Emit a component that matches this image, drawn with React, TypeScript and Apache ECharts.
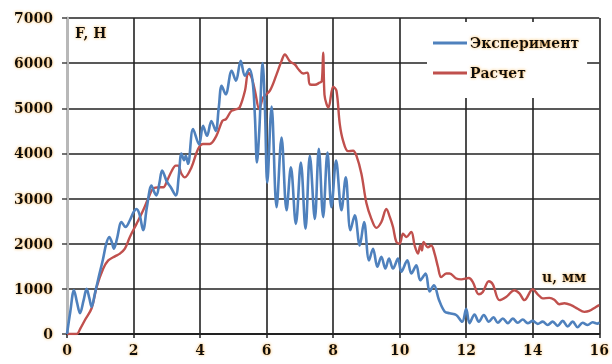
import React, { useEffect, useRef } from "react";
import * as echarts from "echarts";

const xTicks = [0, 2, 4, 6, 8, 10, 12, 14, 16];
const yTicks = [0, 1000, 2000, 3000, 4000, 5000, 6000, 7000];
const seriesNames = ["Эксперимент", "Расчет"];

const expU = [0, 0.1, 0.21, 0.3, 0.39, 0.5, 0.59, 0.67, 0.74, 0.84, 0.95, 1.08, 1.18, 1.27, 1.34, 1.41, 1.5, 1.64, 1.76, 1.89, 2.0, 2.09, 2.18, 2.29, 2.4, 2.54, 2.62, 2.69, 2.78, 2.86, 3.0, 3.12, 3.27, 3.36, 3.44, 3.52, 3.57, 3.64, 3.79, 3.97, 4.09, 4.21, 4.34, 4.47, 4.56, 4.65, 4.77, 4.95, 5.08, 5.22, 5.35, 5.48, 5.58, 5.65, 5.71, 5.78, 5.88, 5.95, 6.02, 6.15, 6.3, 6.45, 6.6, 6.73, 6.88, 7.03, 7.17, 7.3, 7.45, 7.57, 7.7, 7.83, 7.95, 8.09, 8.25, 8.38, 8.52, 8.65, 8.8, 8.93, 9.08, 9.2, 9.33, 9.45, 9.57, 9.68, 9.8, 9.95, 10.05, 10.23, 10.35, 10.5, 10.62, 10.78, 10.9, 11.03, 11.18, 11.35, 11.5, 11.7, 11.88, 12.0, 12.1, 12.25, 12.38, 12.53, 12.68, 12.82, 12.95, 13.1, 13.25, 13.4, 13.55, 13.7, 13.85, 14.0, 14.15, 14.3, 14.45, 14.6, 14.75, 14.9, 15.05, 15.2, 15.35, 15.5, 15.65, 15.8, 15.95, 16.0];
const expF = [0, 500, 970, 700, 460, 750, 1000, 800, 600, 900, 1250, 1650, 2000, 2150, 2050, 1890, 2100, 2480, 2370, 2520, 2700, 2770, 2650, 2300, 2800, 3290, 3150, 3070, 3350, 3620, 3380, 3250, 3070, 3500, 4000, 3850, 3950, 3770, 4540, 4200, 4610, 4390, 4720, 4500, 5000, 5500, 5310, 5830, 5610, 6050, 5720, 5870, 5600, 4800, 3800, 4500, 6000, 5000, 3350, 5040, 2810, 4350, 2740, 3690, 2440, 3800, 2330, 3950, 2550, 4100, 2590, 4020, 2810, 3840, 2740, 3470, 2300, 2630, 1960, 2480, 1630, 1890, 1490, 1710, 1450, 1670, 1450, 1670, 1380, 1630, 1340, 1520, 1190, 1340, 940, 1080, 760, 500, 460, 420, 270, 560, 240, 430, 270, 420, 270, 370, 250, 345, 240, 340, 250, 320, 240, 290, 225, 275, 200, 275, 180, 290, 165, 275, 150, 250, 200, 260, 230, 260];

const calcU = [0, 0.29, 0.4, 0.54, 0.74, 0.89, 1.09, 1.24, 1.44, 1.59, 1.74, 1.89, 2.09, 2.29, 2.44, 2.59, 2.79, 2.9, 3.0, 3.14, 3.27, 3.34, 3.44, 3.54, 3.74, 3.94, 4.09, 4.29, 4.49, 4.67, 4.78, 4.94, 5.09, 5.19, 5.35, 5.45, 5.55, 5.65, 5.78, 5.9, 6.1, 6.3, 6.45, 6.55, 6.7, 6.85, 6.95, 7.1, 7.23, 7.3, 7.45, 7.6, 7.66, 7.7, 7.74, 7.8, 7.86, 8.0, 8.1, 8.2, 8.3, 8.45, 8.6, 8.7, 8.85, 9.0, 9.15, 9.3, 9.45, 9.6, 9.7, 9.8, 9.9, 10.0, 10.1, 10.2, 10.35, 10.45, 10.55, 10.62, 10.67, 10.72, 10.85, 10.95, 11.05, 11.15, 11.25, 11.4, 11.5, 11.7, 11.85, 12.08, 12.2, 12.38, 12.5, 12.68, 12.8, 13.0, 13.2, 13.45, 13.6, 13.75, 14.0, 14.15, 14.3, 14.5, 14.65, 14.8, 14.95, 15.15, 15.35, 15.55, 15.7, 15.9, 16.0];
const calcF = [0, 0, 120, 310, 570, 1040, 1450, 1630, 1720, 1780, 1890, 2150, 2440, 2740, 3000, 3220, 3250, 3250, 3380, 3600, 3730, 3730, 3550, 3470, 3690, 4100, 4210, 4210, 4390, 4720, 4760, 4940, 4980, 5020, 5390, 5790, 5680, 5390, 4980, 5240, 5390, 5750, 6050, 6190, 6040, 5970, 5870, 5770, 5790, 5530, 5520, 5570, 5600, 6230, 5300, 5100, 5020, 5480, 5390, 4650, 4280, 4050, 4060, 3950, 3550, 2900, 2550, 2350, 2480, 2770, 2600, 2370, 2040, 2000, 2220, 2150, 2260, 1960, 1780, 1960, 1850, 2040, 1920, 1960, 1780, 1490, 1260, 1340, 1340, 1230, 1210, 1240, 1150, 880, 930, 1170, 1100, 750, 820, 970, 900, 750, 990, 880, 790, 800, 760, 660, 680, 640, 560, 490, 510, 600, 640];

const FONT = "DejaVu Serif";
const glow = {
  textShadowColor: "rgba(240,160,40,0.75)",
  textShadowBlur: 3,
};

export default function App() {
  const ref = useRef<HTMLDivElement>(null);
  useEffect(() => {
    if (!ref.current) return;
    const chart = echarts.init(ref.current, null, { renderer: "svg" });
    const expData = expU.map((u, i) => [u, expF[i]]);
    const calcData = calcU.map((u, i) => [u, calcF[i]]);
    const labelStyle = {
      fontFamily: FONT,
      fontWeight: "bold" as const,
      fontSize: 14,
      color: "#111",
      ...glow,
    };
    chart.setOption({
      animation: false,
      backgroundColor: "#fff",
      grid: { left: 67, right: 12, top: 18, bottom: 30, containLabel: false },
      xAxis: {
        type: "value",
        min: xTicks[0],
        max: xTicks[xTicks.length - 1],
        interval: 2,
        axisLine: { show: true, lineStyle: { color: "#222", width: 2 } },
        axisTick: { show: true, length: 4, lineStyle: { color: "#222", width: 1.5 } },
        splitLine: { show: true, lineStyle: { color: "#222", width: 1.6 } },
        axisLabel: { ...labelStyle, margin: 9, formatter: (v: number) => String(v) },
      },
      yAxis: {
        type: "value",
        min: yTicks[0],
        max: yTicks[yTicks.length - 1],
        interval: 1000,
        axisLine: { show: true, lineStyle: { color: "#b8b8b8", width: 3 } },
        axisTick: { show: true, length: 5, lineStyle: { color: "#444", width: 1.5 } },
        splitLine: { show: true, lineStyle: { color: "#222", width: 1.6 } },
        axisLabel: { ...labelStyle, margin: 14, formatter: (v: number) => String(v) },
      },
      legend: {
        show: true,
        orient: "vertical",
        left: 427,
        top: 22,
        backgroundColor: "#fff",
        padding: [13, 8, 17, 6],
        itemGap: 14,
        itemWidth: 34,
        itemHeight: 3,
        icon: "rect",
        textStyle: { ...labelStyle, lineHeight: 16, padding: [0, 0, 0, -2] },
        data: seriesNames,
      },
      graphic: [
        {
          type: "text",
          left: 75,
          top: 26,
          style: { text: "F, H", font: `bold 14px "${FONT}"`, fill: "#111", ...glow },
          z: 10,
        },
        {
          type: "text",
          left: 542,
          top: 270,
          style: { text: "u, мм", font: `bold 14px "${FONT}"`, fill: "#111", ...glow },
          z: 10,
        },
      ],
      series: [
        {
          name: seriesNames[0],
          type: "line",
          data: expData,
          symbol: "none",
          smooth: 0.35,
          lineStyle: { color: "#4F81BD", width: 2.6 },
          itemStyle: { color: "#4F81BD" },
          z: 3,
        },
        {
          name: seriesNames[1],
          type: "line",
          data: calcData,
          symbol: "none",
          smooth: 0.35,
          lineStyle: { color: "#C0504D", width: 2.4 },
          itemStyle: { color: "#C0504D" },
          z: 2,
        },
      ],
    });
    return () => chart.dispose();
  }, []);
  return <div ref={ref} style={{ width: 612, height: 364, position: "absolute", left: 0, top: 0 }} />;
}
